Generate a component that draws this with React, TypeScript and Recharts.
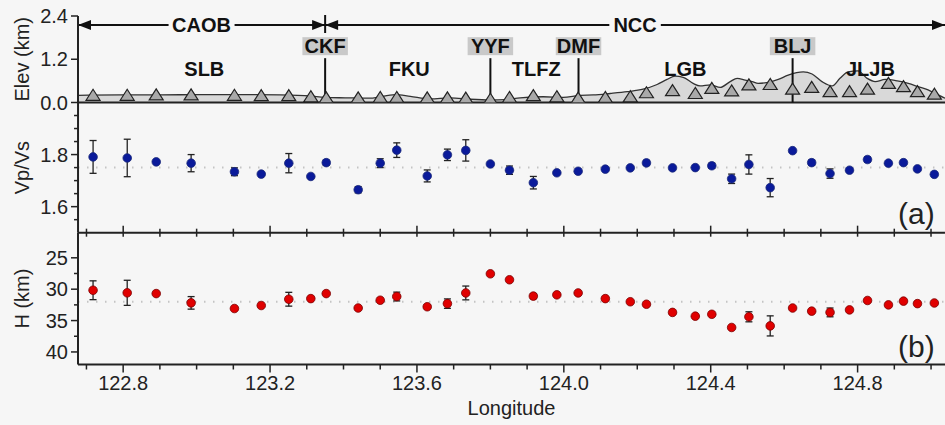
import React from 'react'
import { Area, ComposedChart, ErrorBar, ReferenceLine, Scatter, XAxis, YAxis } from 'recharts'

// stations along the profile (longitude, elevation in km)
const STATION_LON = [
  122.718, 122.811, 122.89, 122.985, 123.103, 123.176, 123.251, 123.311, 123.353, 123.44,
  123.5, 123.545, 123.628, 123.683, 123.733, 123.8, 123.852, 123.917, 123.981, 124.039,
  124.113, 124.181, 124.225, 124.296, 124.358, 124.403, 124.457, 124.504, 124.562, 124.623,
  124.675, 124.725, 124.778, 124.827, 124.884, 124.925, 124.963, 125.009,
]
const STATION_ELEV = [
  0.2, 0.2, 0.21, 0.21, 0.2, 0.19, 0.19, 0.16, 0.13, 0.13,
  0.14, 0.14, 0.13, 0.13, 0.12, 0.09, 0.14, 0.19, 0.16, 0.12,
  0.14, 0.16, 0.27, 0.33, 0.25, 0.39, 0.32, 0.49, 0.5, 0.37,
  0.42, 0.3, 0.3, 0.37, 0.53, 0.44, 0.3, 0.23,
]
const VPVS = [
  1.791, 1.787, 1.772, 1.767, 1.734, 1.725, 1.767, 1.716, 1.769, 1.665,
  1.767, 1.817, 1.718, 1.799, 1.816, 1.764, 1.74, 1.692, 1.73, 1.736,
  1.744, 1.749, 1.768, 1.749, 1.75, 1.757, 1.707, 1.762, 1.673, 1.815,
  1.769, 1.727, 1.74, 1.781, 1.767, 1.769, 1.745, 1.724,
]
const VPVS_ERR = [
  0.063, 0.072, 0, 0.033, 0.015, 0, 0.037, 0, 0.01, 0.012,
  0.017, 0.028, 0.023, 0.022, 0.041, 0, 0.016, 0.024, 0, 0,
  0, 0, 0.01, 0, 0, 0.01, 0.018, 0.037, 0.035, 0,
  0.01, 0.018, 0, 0.01, 0, 0, 0, 0,
]
const MOHO_H = [
  30.17, 30.58, 30.7, 32.18, 33.08, 32.6, 31.6, 31.5, 30.7, 33.0,
  31.76, 31.17, 32.8, 32.3, 30.6, 27.55, 28.5, 31.1, 30.9, 30.6,
  31.5, 32.0, 32.4, 33.7, 34.3, 34.0, 36.1, 34.4, 35.85, 33.0,
  33.5, 33.7, 33.3, 31.8, 32.5, 31.9, 32.3, 32.2,
]
const MOHO_ERR = [
  1.5, 2.0, 0, 1.0, 0, 0, 1.1, 0, 0, 0,
  0, 0.7, 0.3, 0.75, 1.1, 0, 0, 0.4, 0, 0,
  0, 0, 0, 0, 0, 0, 0, 0.8, 1.6, 0,
  0, 0.7, 0, 0, 0, 0, 0, 0,
]

// topography profile
const TOPO_LON = [
  122.678, 122.792, 122.901, 123.01, 123.119, 123.228, 123.309, 123.35, 123.405, 123.473,
  123.541, 123.582, 123.636, 123.691, 123.745, 123.8, 123.84, 123.881, 123.944, 123.998,
  124.045, 124.08, 124.126, 124.173, 124.216, 124.254, 124.281, 124.303, 124.325, 124.352,
  124.371, 124.399, 124.426, 124.453, 124.472, 124.494, 124.513, 124.529, 124.556, 124.584,
  124.611, 124.652, 124.676, 124.703, 124.731, 124.752, 124.774, 124.801, 124.826, 124.848,
  124.875, 124.908, 124.938, 124.965, 124.992, 125.019, 125.038,
]
const TOPO_ELEV = [
  0.2, 0.21, 0.21, 0.22, 0.22, 0.21, 0.18, 0.14, 0.13, 0.12,
  0.22, 0.17, 0.1, 0.13, 0.09, 0.07, 0.08, 0.13, 0.16, 0.14,
  0.2, 0.21, 0.25, 0.3, 0.37, 0.5, 0.64, 0.73, 0.7, 0.53,
  0.46, 0.49, 0.42, 0.58, 0.67, 0.62, 0.58, 0.53, 0.56, 0.64,
  0.76, 0.85, 0.79, 0.58, 0.46, 0.67, 0.85, 0.88, 0.67, 0.58,
  0.64, 0.6, 0.53, 0.44, 0.35, 0.21, 0.12,
]

const FAULTS = ['CKF', 'YYF', 'DMF', 'BLJ']
const FAULT_LON = [123.35, 123.8, 124.04, 124.623]
const BLOCKS = ['SLB', 'FKU', 'TLFZ', 'LGB', 'JLJB']
const BLOCK_LON = [123.021, 123.579, 123.925, 124.331, 124.835]
const TERRANES = ['CAOB', 'NCC']

const LON_DOMAIN: [number, number] = [122.677, 125.038]
const LON_TICKS = [
  122.7, 122.8, 122.9, 123.0, 123.1, 123.2, 123.3, 123.4, 123.5, 123.6, 123.7, 123.8,
  123.9, 124.0, 124.1, 124.2, 124.3, 124.4, 124.5, 124.6, 124.7, 124.8, 124.9, 125.0,
]
const LON_LABELS = [122.8, 123.2, 123.6, 124.0, 124.4, 124.8]
const ELEV_TICKS = [0, 1.2, 2.4]
const VPVS_TICKS = [1.55, 1.6, 1.65, 1.7, 1.75, 1.8, 1.85, 1.9, 1.95]
const VPVS_LABELS = [1.6, 1.8]
const H_TICKS = [25, 27.5, 30, 32.5, 35, 37.5, 40]
const H_LABELS = [25, 30, 35, 40]
const VPVS_MEAN = 1.75
const H_MEAN = 32

const INK = '#222'
const BG = '#f6f6f6'
const FONT = '"Liberation Sans", Arial, sans-serif'
const ARROW_ELEV = 2.15
const BLOCK_LABEL_ELEV = 0.74
const FAULT_TOP_ELEV = 1.23

const stations = STATION_LON.map((lon, i) => ({
  lon,
  elev: STATION_ELEV[i],
  vpvs: VPVS[i],
  vpvsErr: VPVS_ERR[i],
  h: MOHO_H[i],
  hErr: MOHO_ERR[i],
}))
const topo = TOPO_LON.map((lon, i) => ({ lon, topo: TOPO_ELEV[i] }))
const blocks = BLOCK_LON.map((lon, i) => ({ lon, y: BLOCK_LABEL_ELEV, name: BLOCKS[i] }))

function makeYTick(labels: number[], digits: number) {
  return (props: any) => {
    const { x, y, payload } = props
    const major = labels.includes(payload.value)
    return (
      <g>
        <line x1={x - (major ? 7 : 4)} x2={x} y1={y} y2={y} stroke={INK} strokeWidth={1.5} />
        {major && (
          <text x={x - 10} y={y} dy={7} textAnchor="end" fontSize={20} fill={INK} fontFamily={FONT}>
            {payload.value.toFixed(digits)}
          </text>
        )}
      </g>
    )
  }
}

const MidTick = (props: any) => {
  const { x, y, payload } = props
  const major = LON_LABELS.includes(payload.value)
  return <line x1={x} x2={x} y1={y - (major ? 7 : 4)} y2={y + 4} stroke={INK} strokeWidth={1.5} />
}

const BottomTick = (props: any) => {
  const { x, y, payload } = props
  const major = LON_LABELS.includes(payload.value)
  return (
    <g>
      <line x1={x} x2={x} y1={y} y2={y + (major ? 8 : 5)} stroke={INK} strokeWidth={1.5} />
      {major && (
        <text x={x} y={y + 25} textAnchor="middle" fontSize={20} fill={INK} fontFamily={FONT}>
          {payload.value.toFixed(1)}
        </text>
      )}
    </g>
  )
}

const yTitle = (text: string) => (props: any) => {
  const vb = props.viewBox || { x: 0, y: 0, width: 78, height: 0 }
  const cx = vb.x + 22
  const cy = vb.y + vb.height / 2
  return (
    <text
      x={cx}
      y={cy}
      transform={`rotate(-90 ${cx} ${cy})`}
      textAnchor="middle"
      dominantBaseline="central"
      fontSize={20}
      fill={INK}
      fontFamily={FONT}
    >
      {text}
    </text>
  )
}

const xTitle = (props: any) => {
  const vb = props.viewBox || { x: 78, y: 0, width: 867, height: 60 }
  return (
    <text x={vb.x + vb.width / 2} y={vb.y + 50} textAnchor="middle" fontSize={20} fill={INK} fontFamily={FONT}>
      Longitude
    </text>
  )
}

const Triangle = (props: any) => {
  const { cx, cy } = props
  return (
    <polygon
      points={`${cx},${cy - 6} ${cx - 7},${cy + 5} ${cx + 7},${cy + 5}`}
      fill="#a9a9a9"
      stroke={INK}
      strokeWidth={1.2}
    />
  )
}

const dot = (fill: string, stroke: string) => (props: any) => (
  <circle cx={props.cx} cy={props.cy} r={4.3} fill={fill} stroke={stroke} strokeWidth={0.8} />
)

const BlockLabel = (props: any) => (
  <text x={props.cx} y={props.cy} textAnchor="middle" fontSize={20} fontWeight="bold" fill="#111" fontFamily={FONT}>
    {props.payload.name}
  </text>
)

const faultShape = (name: string) => (props: any) => {
  const x = props.x1
  const top = Math.min(props.y1, props.y2)
  const bottom = Math.max(props.y1, props.y2)
  const w = name.length * 13.5 + 5
  return (
    <g>
      <line x1={x} x2={x} y1={top} y2={bottom} stroke="#111" strokeWidth={2} />
      <rect x={x - w / 2} y={top - 21} width={w} height={18} fill="#c9c9c9" />
      <text x={x} y={top - 5} textAnchor="middle" fontSize={20} fontWeight="bold" fill="#111" fontFamily={FONT}>
        {name}
      </text>
    </g>
  )
}

const spanShape = (name: string, tickAtStart: boolean) => (props: any) => {
  const a = Math.min(props.x1, props.x2)
  const b = Math.max(props.x1, props.x2)
  const y = props.y1
  const mid = (a + b) / 2
  const w = name.length * 14.5 + 8
  return (
    <g>
      <line x1={a} x2={b} y1={y} y2={y} stroke="#111" strokeWidth={2} />
      <polygon points={`${a},${y} ${a + 13},${y - 5} ${a + 13},${y + 5}`} fill="#111" />
      <polygon points={`${b},${y} ${b - 13},${y - 5} ${b - 13},${y + 5}`} fill="#111" />
      {tickAtStart && <line x1={a} x2={a} y1={y - 10} y2={y + 8} stroke="#111" strokeWidth={2} />}
      <rect x={mid - w / 2} y={y - 10} width={w} height={20} fill={BG} />
      <text x={mid} y={y + 7} textAnchor="middle" fontSize={20} fontWeight="bold" fill="#111" fontFamily={FONT}>
        {name}
      </text>
    </g>
  )
}

const xAxisBase = {
  type: 'number' as const,
  dataKey: 'lon',
  domain: LON_DOMAIN,
  allowDataOverflow: true,
  ticks: LON_TICKS,
  interval: 0 as const,
  tickSize: 0,
  tickMargin: 0,
  tickLine: false,
}

const yAxisBase = {
  width: 78,
  interval: 0 as const,
  tickSize: 0,
  tickMargin: 0,
  tickLine: false,
  allowDataOverflow: true,
  axisLine: { stroke: INK, strokeWidth: 2 },
}

export default function App() {
  const terraneBounds = [
    [LON_DOMAIN[0], FAULT_LON[0]],
    [FAULT_LON[0], LON_DOMAIN[1]],
  ]
  return (
    <div
      style={{
        position: 'absolute',
        left: 0,
        top: 0,
        width: 945,
        height: 425,
        background: BG,
        overflow: 'hidden',
        fontFamily: FONT,
      }}
    >
      {/* elevation */}
      <div style={{ position: 'absolute', left: 0, top: 0 }}>
        <ComposedChart width={945} height={116} data={topo} margin={{ top: 16, right: 0, bottom: 13.5, left: 0 }}>
          <XAxis {...xAxisBase} hide />
          <YAxis
            {...yAxisBase}
            domain={[0, 2.4]}
            ticks={ELEV_TICKS}
            tick={makeYTick(ELEV_TICKS, 1)}
            label={yTitle('Elev (km)')}
          />
          <Area
            type="monotone"
            dataKey="topo"
            stroke="#333"
            strokeWidth={1.3}
            fill="#d9d9d9"
            fillOpacity={1}
            baseValue={0}
            isAnimationActive={false}
          />
          <ReferenceLine y={0} stroke={INK} strokeWidth={2} />
          {FAULTS.map((name, i) => (
            <ReferenceLine
              key={name}
              segment={[
                { x: FAULT_LON[i], y: 0 },
                { x: FAULT_LON[i], y: FAULT_TOP_ELEV },
              ]}
              ifOverflow="visible"
              shape={faultShape(name)}
            />
          ))}
          {TERRANES.map((name, i) => (
            <ReferenceLine
              key={name}
              segment={[
                { x: terraneBounds[i][0], y: ARROW_ELEV },
                { x: terraneBounds[i][1], y: ARROW_ELEV },
              ]}
              ifOverflow="visible"
              shape={spanShape(name, i === 1)}
            />
          ))}
          <Scatter data={stations} dataKey="elev" shape={Triangle} isAnimationActive={false} />
          <Scatter data={blocks} dataKey="y" shape={BlockLabel} isAnimationActive={false} />
        </ComposedChart>
      </div>

      {/* Vp/Vs */}
      <div style={{ position: 'absolute', left: 0, top: 90 }}>
        <ComposedChart width={945} height={154.7} margin={{ top: 12.5, right: 0, bottom: 0, left: 0 }}>
          <XAxis {...xAxisBase} height={12} tick={MidTick} axisLine={{ stroke: INK, strokeWidth: 2 }} />
          <YAxis
            {...yAxisBase}
            domain={[1.5, 2.0]}
            ticks={VPVS_TICKS}
            tick={makeYTick(VPVS_LABELS, 1)}
            label={yTitle('Vp/Vs')}
          />
          <ReferenceLine y={VPVS_MEAN} stroke="#c4c4c4" strokeWidth={2} strokeDasharray="1.5 7.5" />
          <Scatter data={stations} dataKey="vpvs" shape={dot('#0a1a9a', '#1b2a7a')} isAnimationActive={false}>
            <ErrorBar dataKey="vpvsErr" direction="y" width={3.5} stroke={INK} strokeWidth={1.3} />
          </Scatter>
        </ComposedChart>
      </div>

      {/* Moho depth */}
      <div style={{ position: 'absolute', left: 0, top: 220 }}>
        <ComposedChart width={945} height={205} margin={{ top: 12.7, right: 0, bottom: 0, left: 0 }}>
          <XAxis
            {...xAxisBase}
            height={60.5}
            tick={BottomTick}
            axisLine={{ stroke: INK, strokeWidth: 2 }}
            label={xTitle}
          />
          <YAxis
            {...yAxisBase}
            domain={[21, 42]}
            reversed
            ticks={H_TICKS}
            tick={makeYTick(H_LABELS, 0)}
            label={yTitle('H (km)')}
          />
          <ReferenceLine y={H_MEAN} stroke="#c4c4c4" strokeWidth={2} strokeDasharray="1.5 7.5" />
          <Scatter data={stations} dataKey="h" shape={dot('#e00000', '#7a0000')} isAnimationActive={false}>
            <ErrorBar dataKey="hErr" direction="y" width={3.5} stroke={INK} strokeWidth={1.3} />
          </Scatter>
        </ComposedChart>
      </div>

      <div style={{ position: 'absolute', left: 898, top: 197, fontSize: 30, lineHeight: '34px', color: INK }}>(a)</div>
      <div style={{ position: 'absolute', left: 898, top: 330, fontSize: 30, lineHeight: '34px', color: INK }}>(b)</div>
    </div>
  )
}
